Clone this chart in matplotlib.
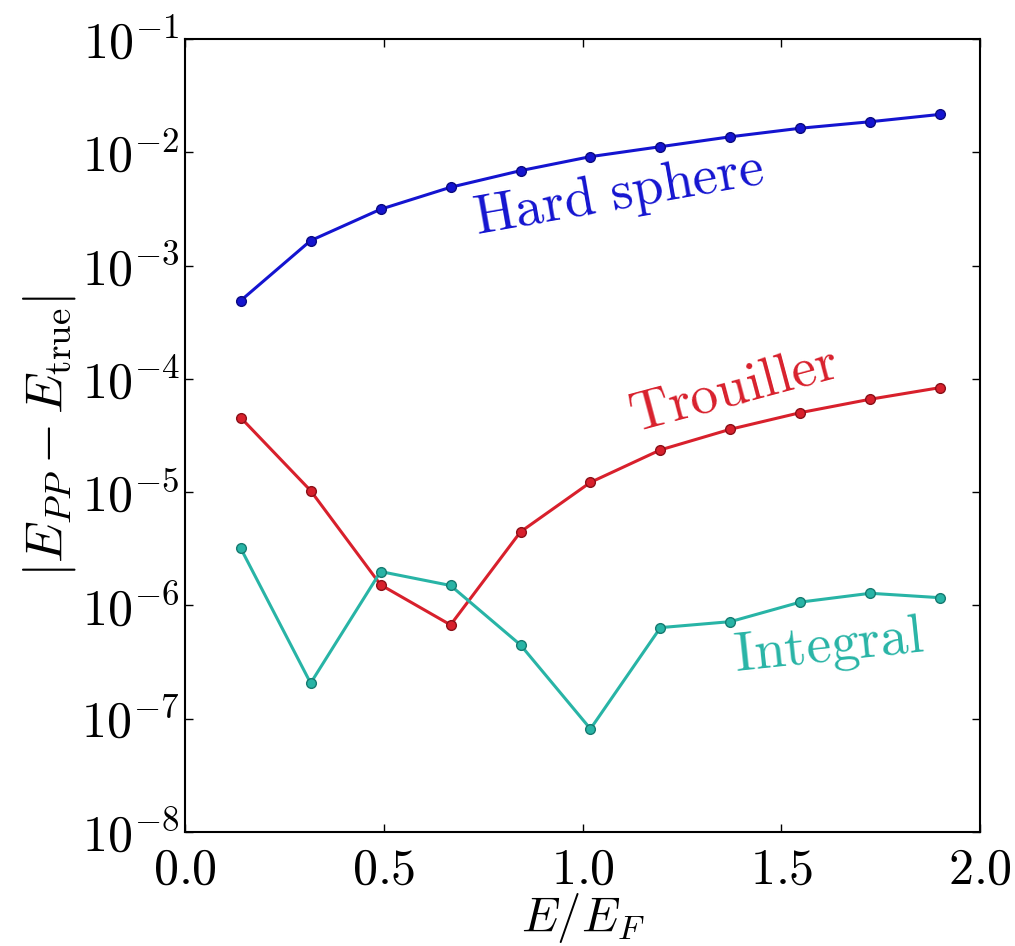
import numpy as np
import matplotlib
matplotlib.use('Agg')
import matplotlib.pyplot as plt
from matplotlib import ticker

plt.rcParams['mathtext.fontset'] = 'cm'

# energies E/E_F where the errors were evaluated
energy = [0.14, 0.316, 0.492, 0.668, 0.844, 1.02, 1.196, 1.372, 1.548, 1.724, 1.90]

# |E_PP - E_true| for each pseudopotential
hard_sphere = [4.9e-4, 1.66e-3, 3.14e-3, 4.91e-3, 6.88e-3, 9.15e-3,
               1.12e-2, 1.37e-2, 1.63e-2, 1.86e-2, 2.16e-2]
trouiller = [4.55e-5, 1.03e-5, 1.52e-6, 6.73e-7, 4.46e-6, 1.22e-5,
             2.36e-5, 3.59e-5, 5.03e-5, 6.61e-5, 8.37e-5]
integral = [3.2e-6, 2.06e-7, 1.99e-6, 1.50e-6, 4.48e-7, 8.13e-8,
            6.37e-7, 7.19e-7, 1.07e-6, 1.28e-6, 1.17e-6]

blue = '#1414d0'
red = '#d8202c'
cyan = '#28b4a6'

fig = plt.figure(figsize=(10.15, 9.46), dpi=100)
ax = fig.add_axes([0.1823, 0.1205, 0.7832, 0.8383])

ax.plot(energy, hard_sphere, '-o', color=blue, lw=2.2, ms=7,
        mec='#0a0a80', mew=1)
ax.plot(energy, trouiller, '-o', color=red, lw=2.2, ms=7,
        mec='#8a1018', mew=1)
ax.plot(energy, integral, '-o', color=cyan, lw=2.2, ms=7,
        mec='#157a70', mew=1)

ax.set_yscale('log')
ax.set_xlim(0, 2)
ax.set_ylim(1e-8, 1e-1)
ax.set_xticks([0.0, 0.5, 1.0, 1.5, 2.0])
ax.set_yticks([10.0 ** k for k in range(-8, 0)])
ax.xaxis.set_major_formatter(ticker.FuncFormatter(lambda v, p: r'$%.1f$' % v))
ax.yaxis.set_major_formatter(
    ticker.FuncFormatter(lambda v, p: r'$10^{%d}$' % round(np.log10(v))))
ax.yaxis.set_minor_locator(ticker.LogLocator(base=10, subs=np.arange(2, 10)))
ax.yaxis.set_minor_formatter(ticker.NullFormatter())

ax.tick_params(which='both', direction='in', top=True, right=True,
               labelsize=36, colors='black')
ax.tick_params(which='major', length=6, width=1)
ax.tick_params(which='minor', length=3, width=1)
ax.tick_params(axis='x', pad=10)
ax.tick_params(axis='y', pad=4)
for s in ax.spines.values():
    s.set_linewidth(1.5)

ax.set_xlabel(r'$E/E_F$', fontsize=35, labelpad=-2)
ax.set_ylabel(r'$|E_{PP}-E_{\rm true}|$', fontsize=38, labelpad=2)

ax.text(1.09, 4.2e-3, r'$\mathrm{Hard\ sphere}$', color=blue, fontsize=40,
        rotation=10, ha='center', va='center')
ax.text(1.38, 8.0e-5, r'$\mathrm{Trouiller}$', color=red, fontsize=40,
        rotation=15, ha='center', va='center')
ax.text(1.62, 4.3e-7, r'$\mathrm{Integral}$', color=cyan, fontsize=40,
        rotation=6, ha='center', va='center')

fig.savefig('out.png', dpi=100)
